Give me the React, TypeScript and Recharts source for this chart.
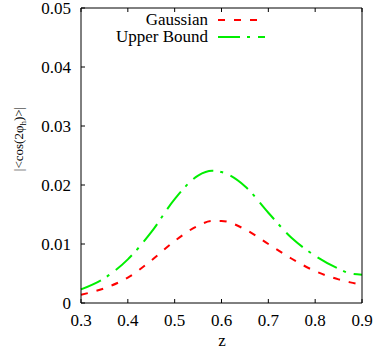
import { LineChart, Line, XAxis, YAxis } from "recharts";

const zValues = [0.3, 0.35, 0.4, 0.45, 0.5, 0.55, 0.58, 0.6, 0.65, 0.7, 0.75, 0.8, 0.85, 0.875, 0.9];
const gaussian = [0.0014, 0.0025, 0.0043, 0.0072, 0.0105, 0.0131, 0.0139, 0.0139, 0.0125, 0.01, 0.0075, 0.0054, 0.004, 0.0035, 0.0031];
const upperBound = [0.0023, 0.0042, 0.0074, 0.012, 0.0176, 0.0216, 0.0224, 0.0222, 0.0198, 0.0153, 0.011, 0.008, 0.0058, 0.005, 0.0048];

const xTicks = [0.3, 0.4, 0.5, 0.6, 0.7, 0.8, 0.9];
const yTicks = [0, 0.01, 0.02, 0.03, 0.04, 0.05];

const data = zValues.map((z, i) => ({ z, gaussian: gaussian[i], upper: upperBound[i] }));

const FONT = "'Times New Roman', 'Liberation Serif', 'DejaVu Serif', serif";
const RED = "#ff0000";
const GREEN = "#00ee00";

// ticks point inwards like gnuplot; tickSize/tickMargin are 0 so x,y sit on the axis line
const BottomTick = ({ x, y, payload }: any) => (
  <g>
    <line x1={x} y1={y} x2={x} y2={y - 4} stroke="#000" />
    <text x={x} y={y + 23} textAnchor="middle" fontSize={17} fontFamily={FONT} fill="#000">
      {String(payload.value)}
    </text>
  </g>
);

const LeftTick = ({ x, y, payload }: any) => (
  <g>
    <line x1={x} y1={y} x2={x + 4} y2={y} stroke="#000" />
    <text x={x - 10} y={y + 6} textAnchor="end" fontSize={17} fontFamily={FONT} fill="#000">
      {payload.value === 0 ? "0" : payload.value.toFixed(2)}
    </text>
  </g>
);

const TopTick = ({ x, y }: any) => <line x1={x} y1={y} x2={x} y2={y + 4} stroke="#000" />;
const RightTick = ({ x, y }: any) => <line x1={x} y1={y} x2={x - 4} y2={y} stroke="#000" />;

// legend drawn inside the svg so it does not steal room from the plot
const LegendKey = () => (
  <g>
    <text x={208} y={25} textAnchor="end" fontSize={17} fontFamily={FONT} fill="#000">Gaussian</text>
    <line x1={218} y1={20} x2={265} y2={20} stroke={RED} strokeWidth={2} strokeDasharray="7 9" />
    <text x={208} y={42} textAnchor="end" fontSize={17} fontFamily={FONT} fill="#000">Upper Bound</text>
    <line x1={218} y1={37} x2={265} y2={37} stroke={GREEN} strokeWidth={2} strokeDasharray="22 7 3 8" />
  </g>
);

export default function App() {
  return (
    <div style={{ position: "absolute", left: 0, top: 0, background: "#fff", fontFamily: FONT }}>
      <LineChart width={382} height={354} data={data} margin={{ top: 6, right: 18, bottom: 41, left: 71 }}>
        <XAxis
          dataKey="z"
          type="number"
          domain={[0.3, 0.9]}
          ticks={xTicks}
          height={10}
          tickSize={0}
          tickMargin={0}
          tickLine={false}
          axisLine={{ stroke: "#000" }}
          tick={<BottomTick />}
          interval={0}
          label={{
            content: () => (
              <text x={222} y={346} textAnchor="middle" fontSize={17} fontFamily={FONT} fill="#000">z</text>
            ),
          }}
        />
        <XAxis
          xAxisId="t"
          orientation="top"
          dataKey="z"
          type="number"
          domain={[0.3, 0.9]}
          ticks={xTicks}
          height={2}
          tickSize={0}
          tickMargin={0}
          tickLine={false}
          axisLine={{ stroke: "#000" }}
          tick={<TopTick />}
          interval={0}
          label={{ content: () => <LegendKey /> }}
        />
        <YAxis
          type="number"
          domain={[0, 0.05]}
          ticks={yTicks}
          width={10}
          tickSize={0}
          tickMargin={0}
          tickLine={false}
          axisLine={{ stroke: "#000" }}
          tick={<LeftTick />}
          interval={0}
          label={{
            content: () => (
              <text
                x={23}
                y={139}
                transform="rotate(-90 23 139)"
                textAnchor="middle"
                fontSize={13}
                fontFamily={FONT}
                fill="#000"
              >
                |&lt;cos(2φ<tspan fontSize={9} dy={3}>h</tspan><tspan dy={-3}>)&gt;|</tspan>
              </text>
            ),
          }}
        />
        <YAxis
          yAxisId="r"
          orientation="right"
          type="number"
          domain={[0, 0.05]}
          ticks={yTicks}
          width={2}
          tickSize={0}
          tickMargin={0}
          tickLine={false}
          axisLine={{ stroke: "#000" }}
          tick={<RightTick />}
          interval={0}
        />
        <Line
          type="monotone"
          dataKey="gaussian"
          stroke={RED}
          strokeWidth={2}
          strokeDasharray="7 9"
          dot={false}
          isAnimationActive={false}
        />
        <Line
          type="monotone"
          dataKey="upper"
          stroke={GREEN}
          strokeWidth={2}
          strokeDasharray="22 7 3 8"
          dot={false}
          isAnimationActive={false}
        />
      </LineChart>
    </div>
  );
}
